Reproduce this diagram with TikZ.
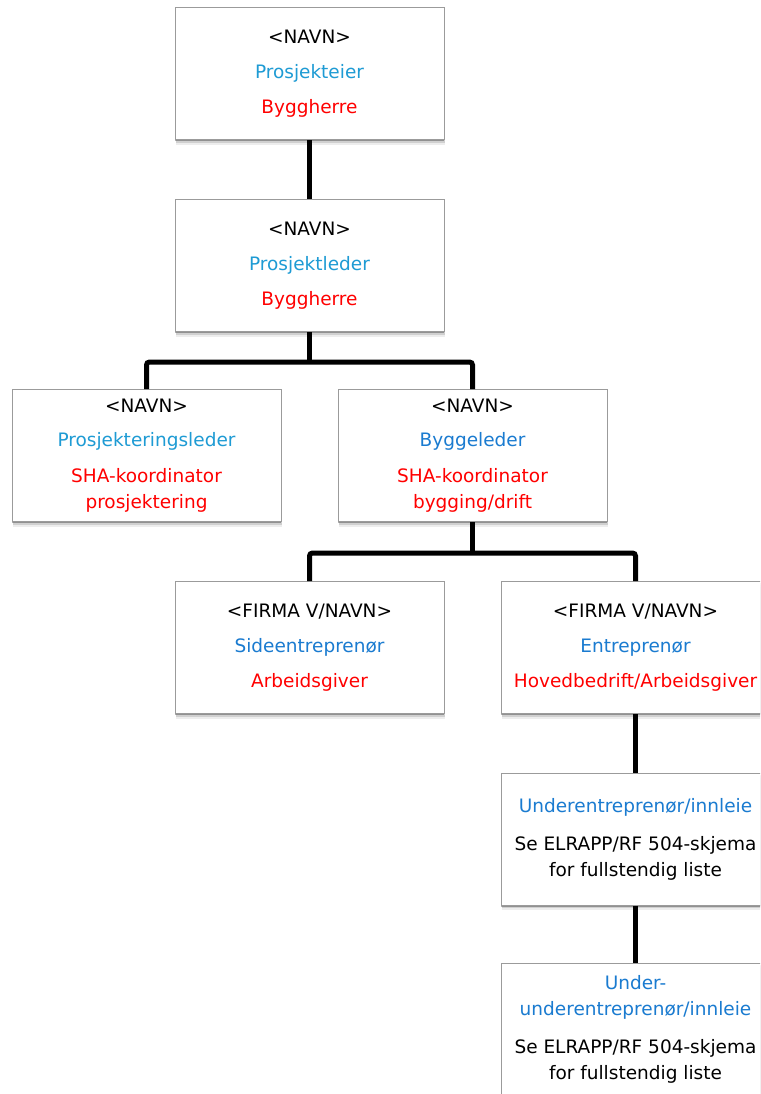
\documentclass[tikz,border=0pt]{standalone}
\usepackage{fontspec}
\setmainfont{DejaVu Sans}
\usetikzlibrary{shadows,calc}
\definecolor{blueA}{RGB}{30,155,212}
\definecolor{blueB}{RGB}{26,123,208}
\definecolor{redR}{RGB}{255,0,0}
\definecolor{bordergray}{RGB}{155,155,155}
\tikzset{
  box/.style={draw=bordergray, line width=1pt, fill=white,
    minimum width=269, minimum height=132, align=center, inner sep=2pt,
    font=\fontsize{18.5}{26}\selectfont,
    drop shadow={shadow xshift=0.5pt, shadow yshift=-5pt, opacity=0.07, fill=black},
    drop shadow={shadow xshift=0.5pt, shadow yshift=-3pt, opacity=0.12, fill=black},
    drop shadow={shadow xshift=0.3pt, shadow yshift=-1.5pt, opacity=0.3, fill=black}},
  conn/.style={line width=5pt, black, rounded corners=3pt}
}
\begin{document}
\begin{tikzpicture}[x=1pt,y=-1pt]
\useasboundingbox (0,0) rectangle (760,1094);
\fill[white] (0,0) rectangle (760,1094);
\clip (0,0) rectangle (760,1094);

\node[box] (b1) at (309.5,74) {<NAVN>\\[9pt]\textcolor{blueA}{Prosjekteier}\\[9pt]\textcolor{redR}{Byggherre}};
\node[box] (b2) at (309.5,265.5) {<NAVN>\\[9pt]\textcolor{blueA}{Prosjektleder}\\[9pt]\textcolor{redR}{Byggherre}};
\node[box] (b3) at (146.5,455.5) {<NAVN>\\[8pt]\textcolor{blueA}{Prosjekteringsleder}\\[10pt]\textcolor{redR}{SHA-koordinator}\\\textcolor{redR}{prosjektering}};
\node[box] (b4) at (472.5,455.5) {<NAVN>\\[8pt]\textcolor{blueB}{Byggeleder}\\[10pt]\textcolor{redR}{SHA-koordinator}\\\textcolor{redR}{bygging/drift}};
\node[box] (b5) at (309.5,647.5) {<FIRMA V/NAVN>\\[9pt]\textcolor{blueB}{Sideentreprenør}\\[9pt]\textcolor{redR}{Arbeidsgiver}};
\node[box] (b6) at (635.5,647.5) {<FIRMA V/NAVN>\\[9pt]\textcolor{blueB}{Entreprenør}\\[9pt]\textcolor{redR}{Hovedbedrift/Arbeidsgiver}};
\node[box] (b7) at (635.5,839) {\textcolor{blueB}{Underentreprenør/innleie}\\[12pt]Se ELRAPP/RF 504-skjema\\for fullstendig liste};
\node[box] (b8) at (635.5,1029) {\textcolor{blueB}{Under-}\\\textcolor{blueB}{underentreprenør/innleie}\\[12pt]Se ELRAPP/RF 504-skjema\\for fullstendig liste};

\coordinate (j1) at ($(b2.south)+(0,30)$);
\coordinate (j2) at ($(b4.south)+(0,31)$);

\draw[conn] (b1.south) -- (b2.north);
\draw[conn] (b2.south) -- (j1);
\draw[conn] (b3.north) |- (j1) -| (b4.north);
\draw[conn] (b4.south) -- (j2);
\draw[conn] (b5.north) |- (j2) -| (b6.north);
\draw[conn] (b6.south) -- (b7.north);
\draw[conn] (b7.south) -- (b8.north);
\end{tikzpicture}
\end{document}
